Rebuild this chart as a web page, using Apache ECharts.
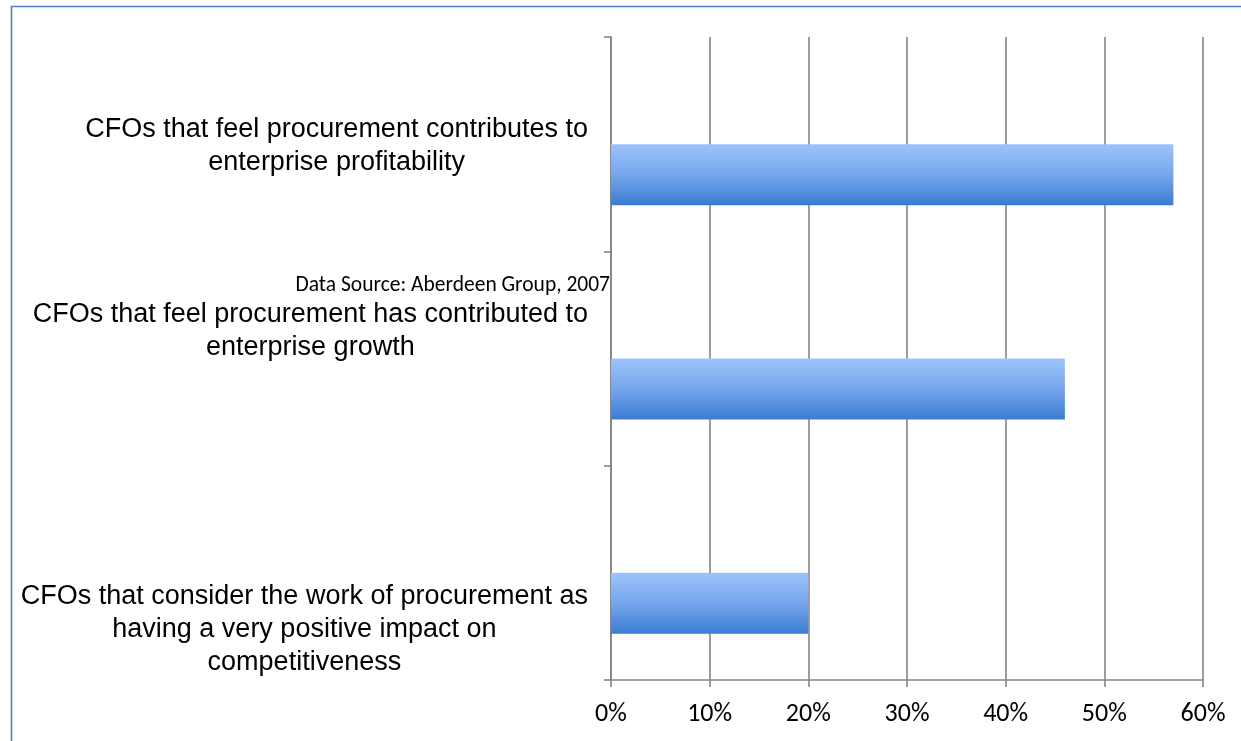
<!DOCTYPE html>
<html>
<head>
<meta charset="utf-8">
<style>
  html, body { margin: 0; padding: 0; background: #fff; }
  #chart { width: 1241px; height: 741px; }
</style>
<script src="https://cdn.jsdelivr.net/npm/echarts@6/dist/echarts.min.js"></script>
</head>
<body>
<div id="chart"></div>
<script>
// ---- data (bottom to top, as the category axis runs upward) ----
const categories = [
  'CFOs that consider the work of procurement as\nhaving a very positive impact on\ncompetitiveness',
  'CFOs that feel procurement has contributed to\nenterprise growth',
  'CFOs that feel procurement contributes to\nenterprise profitability'
];
const values = [20, 46, 57];
const xTicks = { min: 0, max: 60, interval: 10 };
const sourceNote = 'Data Source: Aberdeen Group, 2007';

// ---- layout (label vertical offsets from their band centres, px) ----
const labelShift = [57, -27, 2];

// ---- font selection (narrow Helvetica-like face if present) ----
function hasFont(name) {
  const c = document.createElement('canvas').getContext('2d');
  const s = 'CFOs that feel procurement contributes to';
  c.font = '32px monospace';
  const a = c.measureText(s).width;
  c.font = '32px "' + name + '", monospace';
  const b = c.measureText(s).width;
  return Math.abs(a - b) > 1;
}
let labelFamily = '"Liberation Sans", Arial, sans-serif';
let labelSize = 27;
if (hasFont('Liberation Sans Narrow')) { labelFamily = '"Liberation Sans Narrow"'; labelSize = 32; }
else if (hasFont('Arial Narrow')) { labelFamily = '"Arial Narrow"'; labelSize = 32; }

const tickFamily = 'Carlito, Calibri, Lato, "Open Sans", sans-serif';
const gray = '#858585';

const chart = echarts.init(document.getElementById('chart'));
chart.setOption({
  animation: false,
  backgroundColor: '#ffffff',
  grid: { left: 611, right: 38, top: 37, bottom: 61, containLabel: false },
  xAxis: {
    type: 'value',
    min: xTicks.min, max: xTicks.max, interval: xTicks.interval,
    axisLine: { show: true, lineStyle: { color: gray, width: 1.6 } },
    axisTick: { show: true, length: 7, lineStyle: { color: gray, width: 1.6 } },
    splitLine: { show: true, lineStyle: { color: gray, width: 1.6 } },
    axisLabel: {
      formatter: '{value}%', margin: 21,
      fontFamily: tickFamily, fontSize: 26, color: '#000'
    }
  },
  yAxis: {
    type: 'category',
    data: categories,
    axisLine: { show: true, lineStyle: { color: gray, width: 1.6 } },
    axisTick: { show: true, length: 7, lineStyle: { color: gray, width: 1.6 } },
    splitLine: { show: false },
    axisLabel: { show: false }
  },
  series: [
    {
      type: 'bar', name: 'spacer', data: values.map(function () { return null; }),
      barWidth: 61, barGap: '0%', silent: true
    },
    {
      type: 'bar', name: 'CFOs', data: values,
      barWidth: 61, barGap: '0%',
      itemStyle: {
        color: new echarts.graphic.LinearGradient(0, 0, 0, 1, [
          { offset: 0, color: '#9DC3FA' },
          { offset: 0.5, color: '#76A6EC' },
          { offset: 1, color: '#3A7CD2' }
        ]),
        shadowColor: 'rgba(0,0,0,0.35)', shadowBlur: 5, shadowOffsetX: 3, shadowOffsetY: 3
      }
    }
  ]
});

// category labels: centred lines, right edge just left of the axis,
// vertically placed from the category axis scale
const axisX = chart.convertToPixel({ xAxisIndex: 0 }, 0);
const graphics = [
  {
    type: 'rect', silent: true, z: 100,
    shape: { x: 11.5, y: 6.5, width: 1240, height: 740 },
    style: { fill: 'none', stroke: '#4F81BD', lineWidth: 1.6 }
  },
  {
    type: 'text', silent: true, z: 100,
    x: axisX - 1, y: 286,
    style: {
      text: sourceNote, align: 'right', verticalAlign: 'middle',
      fontFamily: tickFamily, fontSize: 21.5, fill: '#000'
    }
  }
];
categories.forEach(function (cat, i) {
  const cy = chart.convertToPixel({ yAxisIndex: 0 }, cat);
  graphics.push({
    type: 'text', silent: true, z: 50,
    x: axisX - 23, y: cy + labelShift[i],
    style: {
      text: cat.split('\n').map(function (l) { return '{c|' + l + '}'; }).join('\n'),
      align: 'right', verticalAlign: 'middle',
      rich: { c: { align: 'center', fontFamily: labelFamily, fontSize: labelSize, lineHeight: 33, fill: '#000' } }
    }
  });
});
chart.setOption({ graphic: graphics });
</script>
</body>
</html>
